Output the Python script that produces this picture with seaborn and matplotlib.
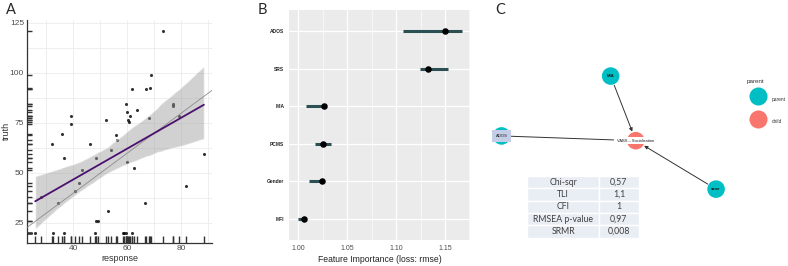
import matplotlib
matplotlib.use("Agg")
import matplotlib.pyplot as plt
import seaborn as sns
from matplotlib.lines import Line2D
from matplotlib.ticker import MultipleLocator

# panel A: truth vs response
response = [73.3, 68.8, 68.5, 61.5, 66.7, 59.3, 76.8, 76.9, 63.7, 60.0, 61.0, 39.0,
            79.1, 67.9, 60.3, 60.5, 51.9, 38.9, 35.9, 55.8, 56.3, 32.2, 46.2, 53.9,
            36.6, 48.3, 88.3, 59.9, 43.1, 62.5, 42.0, 81.6, 40.6, 27.9, 34.1, 66.4,
            52.6, 48.4, 48.9, 25.8, 32.4, 36.6, 47.8, 58.3, 58.8, 59.4, 61.7]
truth = [121, 98.8, 92.7, 91.8, 91.8, 84.7, 84.5, 83.7, 81.5, 80.7, 78.5, 78.5,
         78.7, 77.5, 76.5, 75.5, 76.5, 74.5, 69.5, 69.2, 66.5, 64.5, 64.5, 61.3,
         57.5, 57.3, 59.5, 55.3, 51.3, 52.3, 45.2, 43.3, 41.2, 37.8, 35.2, 35.2,
         31.2, 26.2, 26.2, 20, 20, 20, 20, 20, 20, 20, 20]

# panel B: feature importance
features = ["ADOS", "SRS", "MIA", "PCMS", "Gender", "MFI"]
importance = [1.150, 1.133, 1.026, 1.025, 1.024, 1.006]
imp_low = [1.1065, 1.124, 1.008, 1.017, 1.011, 0.999]
imp_high = [1.167, 1.153, 1.026, 1.033, 1.024, 1.006]

# panel C: path model
node_names = ["MIA", "ADOS", "VABS – Socialisation", "sexe"]
node_role = ["parent", "parent", "child", "parent"]
node_x = [4.28, 0.76, 5.09, 7.68]
node_y = [7.14, 4.89, 4.71, 2.89]
edges = [("MIA", "VABS – Socialisation", True),
         ("sexe", "VABS – Socialisation", True),
         ("ADOS", "VABS – Socialisation", False)]
fit_names = ["Chi-sqr", "TLI", "CFI", "RMSEA p-value", "SRMR"]
fit_values = ["0,57", "1,1", "1", "0,97", "0,008"]

sns.set_style("white")
plt.rcParams["font.family"] = ["Liberation Sans", "DejaVu Sans"]

fig = plt.figure(figsize=(7.88, 2.66), dpi=100)

# ---------------- A
ax1 = fig.add_axes([0.034, 0.088, 0.235, 0.837])
sns.regplot(x=response, y=truth, ax=ax1, ci=95, color="#4b1070",
            scatter_kws=dict(s=5, color="black", linewidths=0, zorder=2),
            line_kws=dict(lw=1.3, zorder=4))
for c in ax1.collections:
    if type(c).__name__ in ("PolyCollection", "FillBetweenPolyCollection"):
        c.set_facecolor("#9a9a9a")
        c.set_alpha(0.45)
        c.set_zorder(3)
ax1.axline((0, 0), slope=1, color="#8c8c8c", lw=0.6, zorder=3)
sns.rugplot(x=response, ax=ax1, height=0.03, color="#333333", lw=0.6)
sns.rugplot(y=truth, ax=ax1, height=0.03, color="#333333", lw=0.6)
ax1.set_xlim(22.7, 91.3)
ax1.set_ylim(15.2, 126.5)
ax1.set_xticks([40, 60, 80])
ax1.set_yticks([25, 50, 75, 100, 125])
ax1.xaxis.set_minor_locator(MultipleLocator(10))
ax1.yaxis.set_minor_locator(MultipleLocator(12.5))
ax1.grid(True, which="both", color="#ebebeb", lw=0.6)
ax1.set_axisbelow(True)
ax1.tick_params(length=0, labelsize=6, colors="#4d4d4d", pad=2)
for s in ["top", "right"]:
    ax1.spines[s].set_visible(False)
for s in ["left", "bottom"]:
    ax1.spines[s].set_color("#333333")
    ax1.spines[s].set_linewidth(0.9)
ax1.set_xlabel("response", fontsize=6.5, color="#333333", labelpad=1)
ax1.set_ylabel("truth", fontsize=6.5, color="#333333")
ax1.yaxis.set_label_coords(-0.085, 0.5)

# ---------------- B
ax2 = fig.add_axes([0.367, 0.098, 0.229, 0.864])
ax2.set_facecolor("#ebebeb")
sns.scatterplot(x=importance, y=features, ax=ax2, color="black", s=22,
                linewidth=0, zorder=4)
ax2.hlines(y=features, xmin=imp_low, xmax=imp_high, color="#2c4f54", lw=2.2, zorder=3)
ax2.set_xlim(0.9905, 1.1752)
ax2.set_ylim(5.57, -0.57)
ax2.set_xticks([1.00, 1.05, 1.10, 1.15])
ax2.set_xticklabels(["1.00", "1.05", "1.10", "1.15"])
ax2.xaxis.set_minor_locator(MultipleLocator(0.025))
ax2.grid(True, which="major", color="white", lw=0.9)
ax2.grid(True, which="minor", axis="x", color="white", lw=0.4)
ax2.set_axisbelow(True)
for s in ax2.spines.values():
    s.set_visible(False)
ax2.tick_params(axis="x", length=2, width=0.5, color="#555555", labelsize=5, labelcolor="#4d4d4d", pad=1.5)
ax2.tick_params(axis="y", length=2, width=0.5, color="#555555", labelsize=3.5, labelcolor="#222222", pad=1.5)
for t in ax2.get_yticklabels():
    t.set_fontweight("bold")
ax2.set_xlabel("Feature Importance (loss: rmse)", fontsize=6.2, color="#222222", labelpad=2)

# ---------------- C
ax3 = fig.add_axes([478 / 788, 0, 310 / 788, 1])
ax3.set_xlim(0, 10)
ax3.set_ylim(0, 10)
ax3.axis("off")
palette = {"parent": "#00bfc4", "child": "#f8766d"}
sns.scatterplot(x=node_x, y=node_y, hue=node_role, palette=palette, s=160,
                linewidth=0, legend=False, ax=ax3, zorder=3)
pos = {n: (x, y) for n, x, y in zip(node_names, node_x, node_y)}
for a, b, arrow in edges:
    ax3.annotate("", xy=pos[b], xytext=pos[a],
                 arrowprops=dict(arrowstyle="-|>" if arrow else "-", color="#333333",
                                 lw=0.7, mutation_scale=5,
                                 shrinkA=7, shrinkB=7 if arrow else 16),
                 zorder=2)
for n in ["MIA", "sexe"]:
    ax3.text(*pos[n], n, ha="center", va="center", fontsize=3.2, fontweight="bold",
             color="#1a1a1a", zorder=5)
ax3.text(*pos["ADOS"], "ADOS", ha="center", va="center", fontsize=3, color="#1a1a1a",
         zorder=5, bbox=dict(boxstyle="square,pad=0.9", fc="#c3cde6", ec="none"))
ax3.text(*pos["VABS – Socialisation"], "VABS – Socialisation", ha="center", va="center",
         fontsize=2.9, color="#1a1a1a", zorder=5,
         bbox=dict(boxstyle="square,pad=0.4", fc="white", ec="none"))

handles = [Line2D([], [], marker="o", ls="", ms=13, mfc=palette[r], mec="none") for r in ["parent", "child"]]
leg = ax3.legend(handles, ["parent", "child"], loc="center left",
                 bbox_to_anchor=(0.868, 0.584), frameon=False, fontsize=3.5,
                 labelspacing=1.69, handletextpad=0.9,
                 handlelength=3.8, handleheight=4.2, borderaxespad=0)
for t in leg.get_texts():
    t.set_color("#333333")
ax3.text(0.868, 0.693, "parent", transform=ax3.transAxes, fontsize=4.5,
         color="#333333", ha="left", va="center")

tab = ax3.table(cellText=[[a, b] for a, b in zip(fit_names, fit_values)],
                cellLoc="center", colWidths=[0.646, 0.354],
                bbox=[0.159, 0.106, 0.359, 0.233])
tab.auto_set_font_size(False)
for cell in tab.get_celld().values():
    cell.set_facecolor("#e9edf4")
    cell.set_edgecolor("white")
    cell.set_linewidth(1)
    cell.get_text().set_fontsize(6.3)
    cell.get_text().set_color("#404040")
    cell.get_text().set_fontfamily("Lato")

for lbl, x in zip(["A", "B", "C"], [6, 258, 495]):
    fig.text(x / 788, 1 - 10 / 266, lbl, fontsize=10.5, family="Lato", va="center", ha="left")

fig.savefig("out.png", dpi=100)
